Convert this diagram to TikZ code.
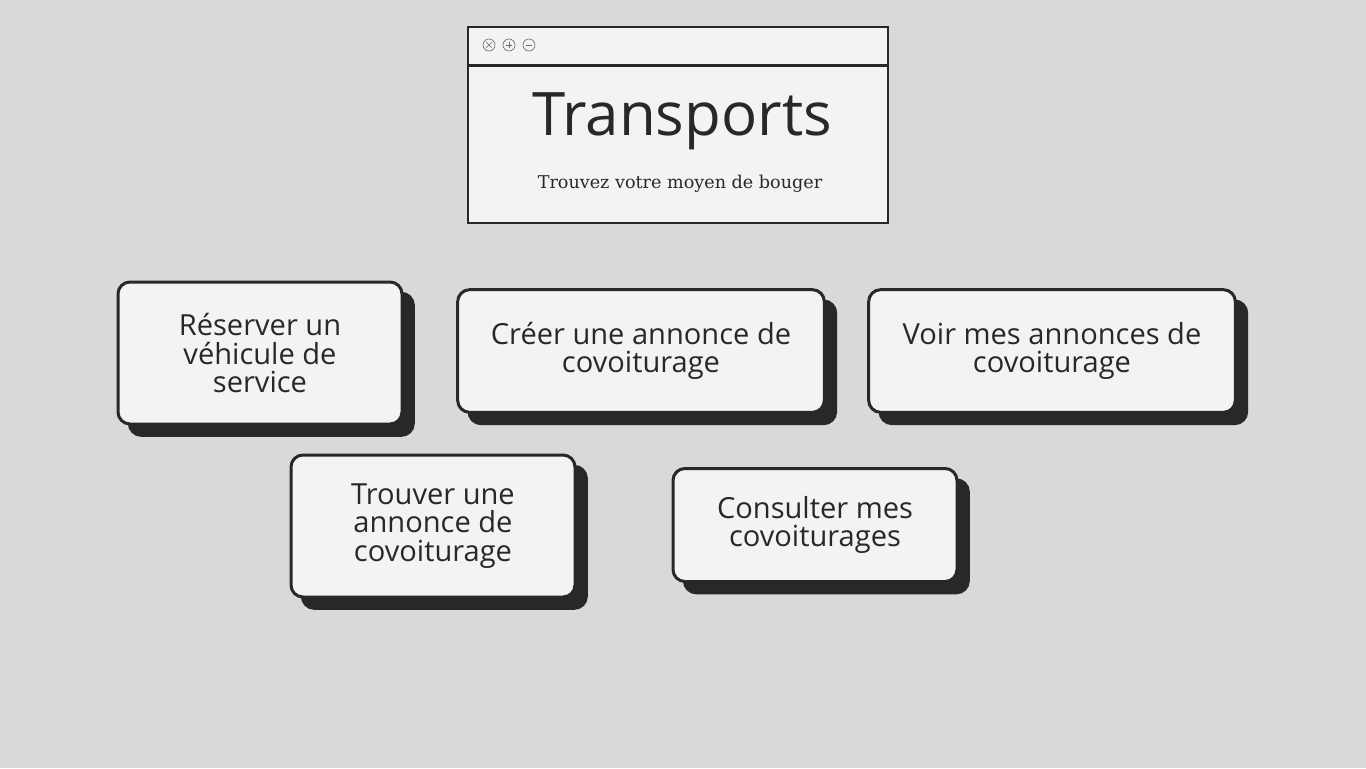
\documentclass[tikz,border=0pt]{standalone}
\usepackage{fontspec}
\setmainfont{Open Sans}
\newfontfamily\subfont{DejaVu Serif}
\usetikzlibrary{shadows,calc}
\definecolor{bgcol}{HTML}{D9D9D9}
\definecolor{paper}{HTML}{F3F3F3}
\definecolor{ink}{HTML}{282828}
\tikzset{
  choice/.style={draw=ink, line width=2.25pt, fill=paper, rounded corners=9pt,
    inner sep=0pt, align=center, text=ink,
    font=\fontsize{21.8}{21.3}\selectfont,
    copy shadow={shadow xshift=8.5pt, shadow yshift=-8.5pt, fill=ink, draw=ink}},
  winbtn/.style={circle, draw=ink!70, line width=0.5pt, minimum size=9pt, inner sep=0pt}
}
\begin{document}
\begin{tikzpicture}[x=0.75pt, y=-0.75pt]
    \fill[bgcol] (0,0) rectangle (1366,768);
    \useasboundingbox (0,0) rectangle (1366,768);

    % Window at the top
    \node[draw=ink, line width=1.5pt, fill=paper, inner sep=0pt,
          minimum width=315pt, minimum height=147pt] (win) at (678,125) {};
    \draw[ink, line width=2.25pt] (468,65) -- (888,65);
    \node[winbtn] (close) at (489,45) {};
    \node[winbtn] (plus) at (509,45) {};
    \node[winbtn] (minus) at (529,45) {};
    \draw[ink!70, line width=0.5pt] ($(close)+(-2pt,-2pt)$) -- ($(close)+(2pt,2pt)$)
      ($(close)+(-2pt,2pt)$) -- ($(close)+(2pt,-2pt)$);
    \draw[ink!70, line width=0.5pt] ($(plus)+(-2.5pt,0)$) -- ($(plus)+(2.5pt,0)$)
      ($(plus)+(0,-2.5pt)$) -- ($(plus)+(0,2.5pt)$);
    \draw[ink!70, line width=0.5pt] ($(minus)+(-2.5pt,0)$) -- ($(minus)+(2.5pt,0)$);
    \node[text=ink, anchor=base, font=\fontsize{45}{45}\selectfont] (title) at (682,135) {Transports};
    \node[text=ink, anchor=base, font=\subfont\fontsize{13.2}{13.2}\selectfont] (sub) at (680,188) {Trouvez votre moyen de bouger};

    % Row 1
    \node[choice, minimum width=213pt, minimum height=106.5pt] (reserve) at (260,353)
      {Réserver un\\véhicule de\\service};
    \node[choice, minimum width=275pt, minimum height=92pt] (create) at (641,351)
      {Créer une annonce de\\covoiturage};
    \node[choice, minimum width=275pt, minimum height=92pt] (mine) at (1052,351)
      {Voir mes annonces de\\covoiturage};

    % Row 2
    \node[choice, minimum width=213pt, minimum height=106.5pt] (find) at (433,526)
      {Trouver une\\annonce de\\covoiturage};
    \node[choice, minimum width=213pt, minimum height=84.75pt] (trips) at (815,525)
      {Consulter mes\\covoiturages};
\end{tikzpicture}
\end{document}
